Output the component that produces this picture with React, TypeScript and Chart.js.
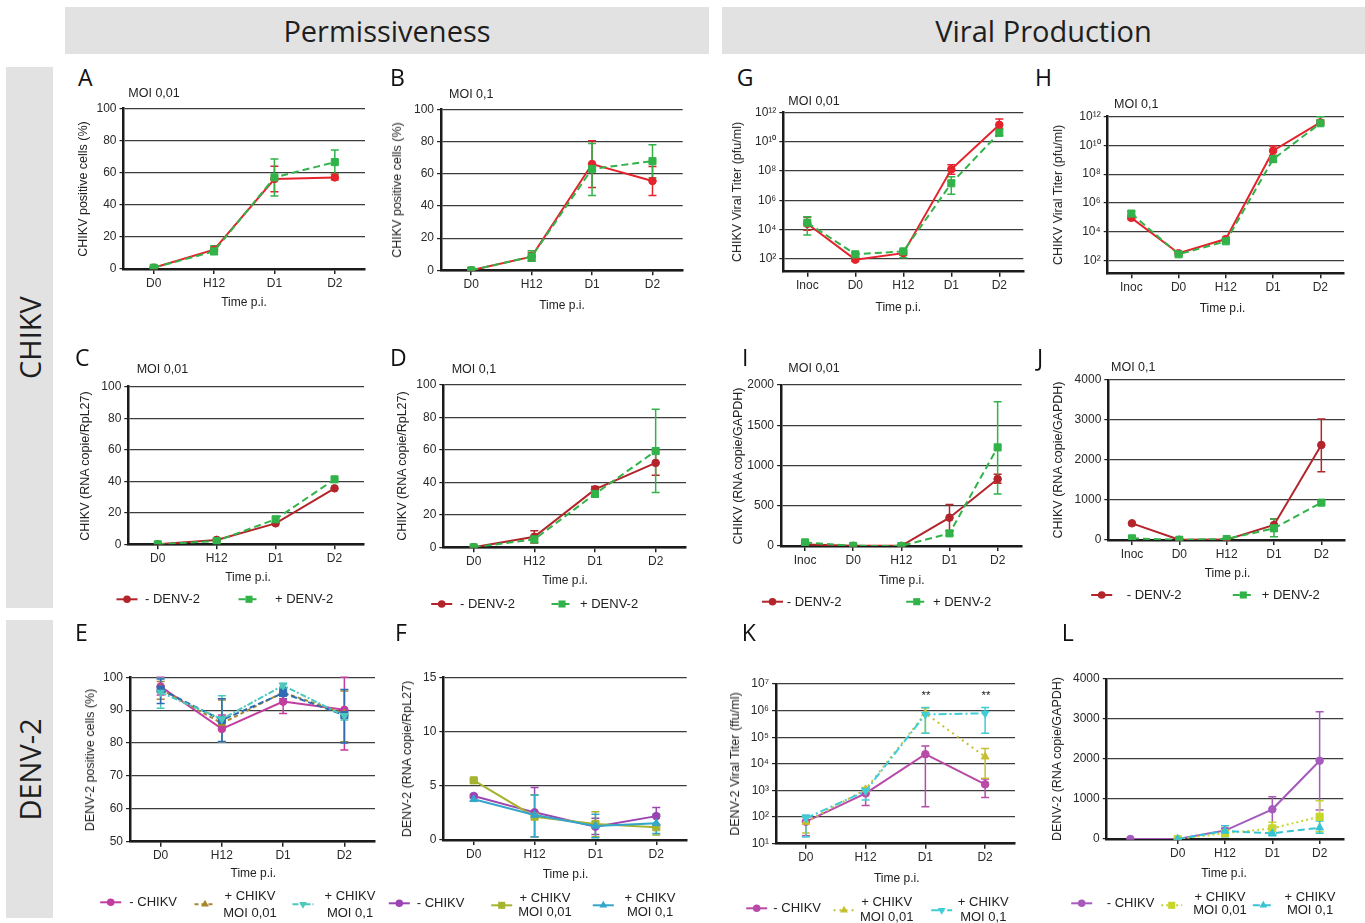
import React, { useEffect, useRef } from 'react';
import { Chart, registerables } from 'chart.js';
Chart.register(...registerables);

const FONT = "'Liberation Sans', Arial, Helvetica, sans-serif";
const HEAD_FONT = "'Open Sans', 'Noto Sans', sans-serif";

// ---------- categories ----------
const time4 = ['D0', 'H12', 'D1', 'D2'];
const time5 = ['Inoc', 'D0', 'H12', 'D1', 'D2'];
const time5L = ['', 'D0', 'H12', 'D1', 'D2'];

// ---------- tick values ----------
const ticks0to100 = [0, 20, 40, 60, 80, 100];
const ticks50to100 = [50, 60, 70, 80, 90, 100];
const ticks0to15 = [0, 5, 10, 15];
const ticks0to2000 = [0, 500, 1000, 1500, 2000];
const ticks0to4000 = [0, 1000, 2000, 3000, 4000];
const ticksLog2to12 = [1e2, 1e4, 1e6, 1e8, 1e10, 1e12];
const ticksLog1to7 = [1e1, 1e2, 1e3, 1e4, 1e5, 1e6, 1e7];

// ---------- A : CHIKV positive cells, MOI 0,01 ----------
const A_minusDenv = [0.8, 12, 56, 57];
const A_minusDenvErr = [[0.3, 1.3], [10.5, 13.5], [48, 64], [55.5, 59]];
const A_plusDenv = [0.8, 11, 57, 66.5];
const A_plusDenvErr = [[0.3, 1.3], [9, 14.5], [45.5, 68.5], [59, 74]];

// ---------- B : CHIKV positive cells, MOI 0,1 ----------
const B_minusDenv = [0, 8.5, 66, 55.5];
const B_minusDenvErr = [[0, 0.5], [6, 11], [51.5, 80.5], [46.5, 64.5]];
const B_plusDenv = [0, 8.5, 63, 67.8];
const B_plusDenvErr = [[0, 0.5], [5.6, 12.2], [46.4, 78.7], [57.5, 78]];

// ---------- C : CHIKV RNA/RpL27, MOI 0,01 ----------
const C_minusDenv = [0, 2.8, 13.3, 35.5];
const C_plusDenv = [0, 2.1, 15.9, 41.2];

// ---------- D : CHIKV RNA/RpL27, MOI 0,1 ----------
const D_minusDenv = [0, 6.5, 35.7, 52];
const D_minusDenvErr = [[0, 0.5], [2.7, 10.2], [34, 37.5], [44.4, 60]];
const D_plusDenv = [0, 4.9, 32.9, 59.3];
const D_plusDenvErr = [[0, 0.5], [3, 7], [31, 35], [33.7, 85]];

// ---------- G : CHIKV viral titer, MOI 0,01 ----------
const G_minusDenv = [2.5e4, 90, 2.5e2, 1.3e8, 1.4e11];
const G_minusDenvErr = [[9e3, 7e4], [70, 120], [1.8e2, 3.5e2], [6e7, 2.7e8], [7e10, 3.5e11]];
const G_plusDenv = [3e4, 2.1e2, 3.3e2, 1.45e7, 4e10];
const G_plusDenvErr = [[4.4e3, 7.7e4], [1.5e2, 2.8e2], [1.2e2, 4e2], [2.6e6, 4e7], [2.5e10, 8e10]];

// ---------- H : CHIKV viral titer, MOI 0,1 ----------
const H_minusDenv = [9e4, 3.1e2, 3e3, 4.3e9, 4e11];
const H_minusDenvErr = [[7e4, 1.2e5], [2.5e2, 4e2], [2.2e3, 4e3], [2e9, 9e9], [3e11, 6e11]];
const H_plusDenv = [1.8e5, 2.6e2, 2.1e3, 1.1e9, 3.5e11];
const H_plusDenvErr = [[1.3e5, 2.6e5], [2e2, 3.2e2], [1.6e3, 2.8e3], [7e8, 2e9], [2.5e11, 1e12]];

// ---------- I : CHIKV RNA/GAPDH, MOI 0,01 ----------
const I_minusDenv = [20, 2, 2, 352, 832];
const I_minusDenvErr = [[10, 30], [0, 5], [0, 5], [190, 517], [780, 890]];
const I_plusDenv = [45, 2, 0, 157, 1225];
const I_plusDenvErr = [[30, 60], [0, 5], [0, 3], [130, 185], [646, 1793]];

// ---------- J : CHIKV RNA/GAPDH, MOI 0,1 ----------
const J_minusDenv = [417, 5, 10, 375, 2375];
const J_minusDenvErr = [[400, 430], [0, 10], [0, 20], [230, 525], [1708, 3025]];
const J_plusDenv = [42, 5, 25, 292, 933];
const J_plusDenvErr = [[30, 55], [0, 10], [10, 40], [83, 525], [900, 970]];

// ---------- E : DENV-2 positive cells ----------
const E_minusChikv = [97.2, 84.3, 92.6, 90.1];
const E_minusChikvErr = [[94.6, 100], [80.4, 88.5], [89, 95.4], [77.9, 100]];
const E_chikv001 = [96.4, 86, 95.4, 89];
const E_chikv001Err = [[93.3, 98.7], [80.4, 93.1], [94.3, 96.5], [80.4, 95.8]];
const E_chikv01 = [95.4, 87.3, 97.5, 88.3];
const E_chikv01Err = [[90.6, 99.7], [80.4, 94.4], [96.6, 98.2], [87, 89.6]];
const E_extra = [96.3, 87, 95.2, 88.5];
const E_extraErr = [[92, 99.5], [80.5, 93.5], [93.5, 96.8], [80, 96.3]];

// ---------- F : DENV-2 RNA/RpL27 ----------
const F_minusChikv = [4.06, 2.55, 1.23, 2.2];
const F_minusChikvErr = [[3.9, 4.2], [0.3, 4.83], [0.5, 2.0], [1.4, 3.0]];
const F_chikv001 = [5.5, 2.15, 1.48, 1.17];
const F_chikv001Err = [[5.4, 5.6], [0.3, 4.15], [0.3, 2.6], [0.46, 2.3]];
const F_chikv01 = [3.75, 2.3, 1.3, 1.54];
const F_chikv01Err = [[3.6, 3.9], [0.3, 4.15], [0.2, 2.37], [0.6, 2.37]];

// ---------- K : DENV-2 viral titer ----------
const K_minusChikv = [67, 780, 2.3e4, 1.7e3];
const K_minusChikvErr = [[20, 110], [270, 1200], [245, 4.7e4], [540, 2.7e3]];
const K_chikv001 = [65, 1100, 7.9e5, 1.85e4];
const K_chikv001Err = [[25, 100], [700, 1300], [1.4e5, 1.25e6], [2.9e3, 3.8e4]];
const K_chikv01 = [90, 950, 7.2e5, 7.9e5];
const K_chikv01Err = [[18, 120], [440, 1200], [1.4e5, 1.3e6], [1.4e5, 1.3e6]];

// ---------- L : DENV-2 RNA/GAPDH ----------
const L_minusChikv = [0, 0, 210, 742, 1958];
const L_minusChikvErr = [[0, 0], [0, 0], [150, 267], [308, 1058], [725, 3183]];
const L_chikv001 = [null, 0, 142, 267, 558];
const L_chikv001Err = [null, [0, 0], [80, 220], [100, 417], [183, 958]];
const L_chikv01 = [null, 0, 200, 142, 283];
const L_chikv01Err = [null, [0, 0], [58, 333], [83, 267], [142, 450]];

// ---------- colours ----------
const RED = '#e4232d';
const DRED = '#b3252b';
const GREEN = '#31b349';
const MAG = '#c23da0';
const BROWN = '#a8862e';
const TURQ = '#4dc8bd';
const BLUE = '#2e6db3';
const PURP = '#9b45b2';
const OLIVE = '#a6b32f';
const SKY = '#34a5cb';
const MAG2 = '#b84aa8';
const YOL = '#c6bf33';
const CYAN = '#3fcdd6';
const PURP2 = '#a65bbc';
const LIME = '#c8d62a';
const CYAN2 = '#36c4d4';

const SOLID: number[] = [];
const DASH = [7, 4];

function ser(label: string, data: any[], err: any[] | null, color: string, dash: number[], style: string, rot: number, radius: number, order: number) {
  return { label, data, err, color, dash, style, rot, radius, order };
}

const supDigits: Record<string, string> = { '0': '⁰', '1': '¹', '2': '²', '3': '³', '4': '⁴', '5': '⁵', '6': '⁶', '7': '⁷', '8': '⁸', '9': '⁹' };
const logLabel = (v: number) => '10' + String(Math.round(Math.log10(v))).split('').map((c) => supDigits[c]).join('');

const denvLegend = (y: number, g1: number, t1: number, g2: number, t2: number) => [
  { ds: 0, gx: g1, gy: y, text: ['- DENV-2'], tx: t1, ty: y },
  { ds: 1, gx: g2, gy: y, text: ['+ DENV-2'], tx: t2, ty: y },
];
const chikvLegend = (y: number, y1: number, y2: number, g: number[], t: number[]) => [
  { ds: 0, gx: g[0], gy: y, text: ['- CHIKV'], tx: t[0], ty: y },
  { ds: 1, gx: g[1], gy: y + 2, text: ['+ CHIKV', 'MOI 0,01'], tx: t[1], ty: y1, ty2: y2 },
  { ds: 2, gx: g[2], gy: y + 2, text: ['+ CHIKV', 'MOI 0,1'], tx: t[2], ty: y1, ty2: y2 },
];

const panels: any[] = [
  {
    id: 'A', box: [123.5, 108.3, 365, 269], labels: time4, yType: 'linear', yMin: 0, yMax: 100, yTicks: ticks0to100,
    yTitle: 'CHIKV positive cells (%)', yTitleX: 83, xTitle: [244, 302], letter: [78, 76.7], moi: ['MOI 0,01', 128.3, 93.3],
    series: [ser('- DENV-2', A_minusDenv, A_minusDenvErr, RED, SOLID, 'circle', 0, 3.8, 1), ser('+ DENV-2', A_plusDenv, A_plusDenvErr, GREEN, DASH, 'rect', 0, 5, 0)],
    legend: [],
  },
  {
    id: 'B', box: [441, 109.3, 682.7, 270.3], labels: time4, yType: 'linear', yMin: 0, yMax: 100, yTicks: ticks0to100,
    yTitle: 'CHIKV positive cells (%)', yTitleX: 396.7, xTitle: [562, 304.5], letter: [390, 76.7], moi: ['MOI 0,1', 449, 94],
    series: [ser('- DENV-2', B_minusDenv, B_minusDenvErr, RED, SOLID, 'circle', 0, 3.8, 1), ser('+ DENV-2', B_plusDenv, B_plusDenvErr, GREEN, DASH, 'rect', 0, 5, 0)],
    legend: [],
  },
  {
    id: 'G', box: [783.3, 112.3, 1023.3, 271.7], labels: time5, yType: 'logarithmic', yMin: 13.6, yMax: 1e12, yTicks: ticksLog2to12,
    yTitle: 'CHIKV Viral Titer (pfu/ml)', yTitleX: 737.3, xTitle: [898.3, 307], letter: [736.7, 76.7], moi: ['MOI 0,01', 788.3, 100.7],
    series: [ser('- DENV-2', G_minusDenv, G_minusDenvErr, RED, SOLID, 'circle', 0, 3.8, 1), ser('+ DENV-2', G_plusDenv, G_plusDenvErr, GREEN, DASH, 'rect', 0, 5, 0)],
    legend: [],
  },
  {
    id: 'H', box: [1107.7, 116.7, 1344, 273.3], labels: time5, yType: 'logarithmic', yMin: 12.4, yMax: 1e12, yTicks: ticksLog2to12,
    yTitle: 'CHIKV Viral Titer (pfu/ml)', yTitleX: 1058.3, xTitle: [1222.5, 308], letter: [1035, 76.7], moi: ['MOI 0,1', 1114, 104.3],
    series: [ser('- DENV-2', H_minusDenv, H_minusDenvErr, RED, SOLID, 'circle', 0, 3.8, 1), ser('+ DENV-2', H_plusDenv, H_plusDenvErr, GREEN, DASH, 'rect', 0, 5, 0)],
    legend: [],
  },
  {
    id: 'C', box: [128.3, 386.7, 364, 544.3], labels: time4, yType: 'linear', yMin: 0, yMax: 100, yTicks: ticks0to100,
    yTitle: 'CHIKV (RNA copie/RpL27)', yTitleX: 85, xTitle: [248, 576.7], letter: [75, 357], moi: ['MOI 0,01', 136.7, 369.3],
    series: [ser('- DENV-2', C_minusDenv, null, DRED, SOLID, 'circle', 0, 3.8, 1), ser('+ DENV-2', C_plusDenv, null, GREEN, DASH, 'rect', 0, 5, 0)],
    legend: denvLegend(599.3, 127, 145, 249, 275),
  },
  {
    id: 'D', box: [443.3, 385, 686, 547.3], labels: time4, yType: 'linear', yMin: 0, yMax: 100, yTicks: ticks0to100,
    yTitle: 'CHIKV (RNA copie/RpL27)', yTitleX: 401.7, xTitle: [565, 580], letter: [390, 357], moi: ['MOI 0,1', 451.7, 369.3],
    series: [ser('- DENV-2', D_minusDenv, D_minusDenvErr, DRED, SOLID, 'circle', 0, 3.8, 1), ser('+ DENV-2', D_plusDenv, D_plusDenvErr, GREEN, DASH, 'rect', 0, 5, 0)],
    legend: denvLegend(604, 441.7, 460, 562, 580),
  },
  {
    id: 'I', box: [781, 385, 1021.7, 546], labels: time5, yType: 'linear', yMin: 0, yMax: 2000, yTicks: ticks0to2000,
    yTitle: 'CHIKV (RNA copie/GAPDH)', yTitleX: 738.3, xTitle: [901.7, 580], letter: [742, 357], moi: ['MOI 0,01', 788.3, 368.3],
    series: [ser('- DENV-2', I_minusDenv, I_minusDenvErr, DRED, SOLID, 'circle', 0, 3.8, 1), ser('+ DENV-2', I_plusDenv, I_plusDenvErr, GREEN, DASH, 'rect', 0, 5, 0)],
    legend: denvLegend(601.7, 772.5, 786.7, 916.7, 933),
  },
  {
    id: 'J', box: [1108.3, 380, 1345, 540], labels: time5, yType: 'linear', yMin: 0, yMax: 4000, yTicks: ticks0to4000,
    yTitle: 'CHIKV (RNA copie/GAPDH)', yTitleX: 1058.3, xTitle: [1227.5, 573], letter: [1037, 357], moi: ['MOI 0,1', 1111, 367.3],
    series: [ser('- DENV-2', J_minusDenv, J_minusDenvErr, DRED, SOLID, 'circle', 0, 3.8, 1), ser('+ DENV-2', J_plusDenv, J_plusDenvErr, GREEN, DASH, 'rect', 0, 5, 0)],
    legend: denvLegend(595, 1101.7, 1126.7, 1243.3, 1261.7),
  },
  {
    id: 'E', box: [130, 677.3, 375, 841.7], labels: time4, yType: 'linear', yMin: 50, yMax: 100, yTicks: ticks50to100,
    yTitle: 'DENV-2 positive cells (%)', yTitleX: 90, xTitle: [253.3, 873.3], letter: [75, 631.7], moi: null,
    series: [
      ser('- CHIKV', E_minusChikv, E_minusChikvErr, MAG, SOLID, 'circle', 0, 3.8, 3),
      ser('+ CHIKV MOI 0,01', E_chikv001, E_chikv001Err, BROWN, [4, 3], 'triangle', 0, 4.5, 2),
      ser('+ CHIKV MOI 0,1', E_chikv01, E_chikv01Err, TURQ, [6, 2, 2, 2], 'triangle', 180, 4.5, 0),
      ser('extra', E_extra, E_extraErr, BLUE, [6, 3], 'rect', 0, 5, 1),
    ],
    legend: chikvLegend(902.3, 896.7, 913.3, [110.7, 205, 303], [129.3, 250, 350]),
  },
  {
    id: 'F', box: [443.3, 677.3, 686.7, 840], labels: time4, yType: 'linear', yMin: 0, yMax: 15, yTicks: ticks0to15,
    yTitle: 'DENV-2 (RNA copie/RpL27)', yTitleX: 406.7, xTitle: [565.5, 874.3], letter: [395, 631.7], moi: null,
    series: [
      ser('- CHIKV', F_minusChikv, F_minusChikvErr, PURP, SOLID, 'circle', 0, 3.8, 2),
      ser('+ CHIKV MOI 0,01', F_chikv001, F_chikv001Err, OLIVE, SOLID, 'rect', 0, 5, 1),
      ser('+ CHIKV MOI 0,1', F_chikv01, F_chikv01Err, SKY, SOLID, 'triangle', 0, 4.5, 0),
    ],
    legend: chikvLegend(903.3, 898.3, 912.3, [399.3, 501.7, 603.3], [416.7, 545, 650]),
  },
  {
    id: 'K', box: [776, 684, 1015, 843.7], labels: time4, yType: 'logarithmic', yMin: 10, yMax: 1e7, yTicks: ticksLog1to7,
    yTitle: 'DENV-2 Viral Titer (ffu/ml)', yTitleX: 735, xTitle: [896.7, 877.7], letter: [741.7, 631.7], moi: null,
    stars: [[926, 695], [986, 695]],
    series: [
      ser('- CHIKV', K_minusChikv, K_minusChikvErr, MAG2, SOLID, 'circle', 0, 3.8, 2),
      ser('+ CHIKV MOI 0,01', K_chikv001, K_chikv001Err, YOL, [2, 4], 'triangle', 0, 4.5, 1),
      ser('+ CHIKV MOI 0,1', K_chikv01, K_chikv01Err, CYAN, [8, 3, 2, 3], 'triangle', 180, 4.5, 0),
    ],
    legend: chikvLegend(908.3, 901.7, 916.7, [756.7, 844, 941.7], [773.3, 886.7, 983.3]),
  },
  {
    id: 'L', box: [1106.7, 679, 1343.3, 839], labels: time5L, yType: 'linear', yMin: 0, yMax: 4000, yTicks: ticks0to4000,
    yTitle: 'DENV-2 (RNA copie/GAPDH)', yTitleX: 1056.7, xTitle: [1224, 873.3], letter: [1061.7, 631.7], moi: null, hideFirstTick: true,
    series: [
      ser('- CHIKV', L_minusChikv, L_minusChikvErr, PURP2, SOLID, 'circle', 0, 3.8, 2),
      ser('+ CHIKV MOI 0,01', L_chikv001, L_chikv001Err, LIME, [2, 3], 'rect', 0, 5, 1),
      ser('+ CHIKV MOI 0,1', L_chikv01, L_chikv01Err, CYAN2, DASH, 'triangle', 0, 4.5, 0),
    ],
    legend: chikvLegend(903.3, 896.7, 910, [1081.7, 1171.7, 1263.3], [1106.7, 1220, 1310]),
  },
];

const YW = 48;
const XH = 22;

function drawMarker(ctx: CanvasRenderingContext2D, style: string, x: number, y: number, r: number, rot: number, color: string) {
  ctx.save();
  ctx.fillStyle = color;
  ctx.setLineDash([]);
  ctx.translate(x, y);
  if (rot) ctx.rotate((rot * Math.PI) / 180);
  ctx.beginPath();
  if (style === 'circle') ctx.arc(0, 0, r, 0, Math.PI * 2);
  else if (style === 'rect') {
    const s = r * Math.SQRT1_2;
    ctx.rect(-s, -s, 2 * s, 2 * s);
  } else {
    ctx.moveTo(0, -r);
    ctx.lineTo(r * 0.866, r * 0.5);
    ctx.lineTo(-r * 0.866, r * 0.5);
    ctx.closePath();
  }
  ctx.fill();
  ctx.restore();
}

const errorBarPlugin = {
  id: 'errbars',
  beforeDatasetsDraw(chart: any) {
    const ctx = chart.ctx;
    const ys = chart.scales.y;
    chart.data.datasets.forEach((ds: any, i: number) => {
      if (!ds.errorBars) return;
      const meta = chart.getDatasetMeta(i);
      ctx.save();
      ctx.strokeStyle = ds.borderColor;
      ctx.lineWidth = 1.5;
      ctx.setLineDash([]);
      ds.errorBars.forEach((e: any, j: number) => {
        if (!e) return;
        const pt = meta.data[j];
        if (!pt || ds.data[j] == null) return;
        const x = pt.x;
        const y1 = ys.getPixelForValue(e[0]);
        const y2 = ys.getPixelForValue(e[1]);
        ctx.beginPath();
        ctx.moveTo(x, y1);
        ctx.lineTo(x, y2);
        ctx.moveTo(x - 4, y1);
        ctx.lineTo(x + 4, y1);
        ctx.moveTo(x - 4, y2);
        ctx.lineTo(x + 4, y2);
        ctx.stroke();
      });
      ctx.restore();
    });
  },
};

function glyphPlugin(items: any[], cl: number, ct: number) {
  return {
    id: 'glyphs',
    afterDraw(chart: any) {
      const ctx = chart.ctx;
      items.forEach((it) => {
        const ds = chart.data.datasets[it.ds];
        const x = it.gx - cl;
        const y = it.gy - ct;
        ctx.save();
        ctx.strokeStyle = ds.borderColor;
        ctx.lineWidth = 2;
        ctx.setLineDash(ds.borderDash || []);
        ctx.beginPath();
        ctx.moveTo(x - 10.5, y);
        ctx.lineTo(x + 10.5, y);
        ctx.stroke();
        ctx.restore();
        drawMarker(ctx, ds.pointStyle, x, y, ds.pointRadius, ds.pointRotation, ds.borderColor);
      });
    },
  };
}

function Panel({ p }: { p: any }) {
  const ref = useRef<HTMLCanvasElement>(null);
  const [l, t, r, b] = p.box;
  const cl = Math.floor(l - YW - 22);
  const ct = Math.floor(t - 12);
  const cw = Math.ceil(r + 12 - cl);
  const ch = Math.ceil(b + XH + 82 - ct);
  const pad = { left: l - YW - cl, top: t - ct, right: cl + cw - r, bottom: ct + ch - (b + XH) };

  useEffect(() => {
    const canvas = ref.current;
    if (!canvas) return;
    const datasets = p.series.map((s: any) => ({
      label: s.label,
      data: s.data,
      borderColor: s.color,
      backgroundColor: s.color,
      borderWidth: 2,
      borderDash: s.dash,
      pointStyle: s.style,
      pointRotation: s.rot,
      pointRadius: s.radius,
      pointHoverRadius: s.radius,
      pointBackgroundColor: s.color,
      pointBorderColor: s.color,
      pointBorderWidth: 1,
      tension: 0,
      spanGaps: true,
      fill: false,
      order: s.order,
      errorBars: s.err,
    }));
    const tickFont = { size: 12, family: FONT };
    const chart = new Chart(canvas, {
      type: 'line',
      data: { labels: p.labels, datasets },
      options: {
        responsive: false,
        animation: false,
        events: [],
        layout: { padding: pad },
        plugins: { legend: { display: false }, tooltip: { enabled: false } },
        scales: {
          x: {
            type: 'category',
            offset: true,
            afterFit: (s: any) => { s.height = XH; },
            grid: {
              display: true,
              drawOnChartArea: false,
              drawTicks: true,
              tickLength: 5,
              lineWidth: 1.5,
              color: '#222',
              tickColor: (c: any) => (p.hideFirstTick && c.index === 0 ? 'rgba(0,0,0,0)' : '#222'),
            },
            border: { display: true, color: '#1b1b1b', width: 2.5 },
            ticks: { color: '#2a2a2a', font: tickFont, padding: 2, maxRotation: 0, autoSkip: false },
          },
          y: {
            type: p.yType,
            min: p.yMin,
            max: p.yMax,
            afterFit: (s: any) => { s.width = YW; },
            afterBuildTicks: (s: any) => { s.ticks = p.yTicks.map((v: number) => ({ value: v })); },
            grid: { color: '#3c3c3c', lineWidth: 1.2, drawTicks: true, tickLength: 4, tickColor: '#222' },
            border: { display: true, color: '#1b1b1b', width: 2.5 },
            ticks: {
              color: '#2a2a2a',
              font: tickFont,
              padding: 3,
              autoSkip: false,
              callback: (v: any) => (p.yType === 'logarithmic' ? logLabel(Number(v)) : String(v)),
            },
          },
        },
      } as any,
      plugins: [errorBarPlugin, glyphPlugin(p.legend, cl, ct)],
    });
    return () => chart.destroy();
  }, []);

  const abs: React.CSSProperties = { position: 'absolute', whiteSpace: 'nowrap', color: '#222' };
  return (
    <>
      <canvas ref={ref} width={cw} height={ch} style={{ position: 'absolute', left: cl, top: ct, width: cw, height: ch }} />
      <div style={{ ...abs, left: p.letter[0], top: p.letter[1] - 15, lineHeight: '30px', fontSize: 23, fontFamily: HEAD_FONT, color: '#111' }}>{p.id}</div>
      {p.moi && (
        <div style={{ ...abs, left: p.moi[1], top: p.moi[2] - 8, lineHeight: '16px', fontSize: 12.5, fontFamily: FONT }}>{p.moi[0]}</div>
      )}
      <div
        style={{
          ...abs,
          left: p.yTitleX,
          top: (p.box[1] + p.box[3]) / 2,
          fontSize: 12.5,
          lineHeight: '14px',
          fontFamily: FONT,
          transform: 'translate(-50%, -50%) rotate(-90deg)',
        }}
      >
        {p.yTitle}
      </div>
      <div style={{ ...abs, left: p.xTitle[0] - 50, width: 100, textAlign: 'center', top: p.xTitle[1] - 8, lineHeight: '16px', fontSize: 12, fontFamily: FONT }}>
        Time p.i.
      </div>
      {(p.stars || []).map((s: number[], i: number) => (
        <div key={'s' + i} style={{ ...abs, left: s[0] - 20, width: 40, textAlign: 'center', top: s[1] - 7, lineHeight: '14px', fontSize: 11.5, fontFamily: FONT }}>**</div>
      ))}
      {p.legend.map((it: any, i: number) =>
        it.text.length === 1 ? (
          <div key={'lg' + i} style={{ ...abs, left: it.tx, top: it.ty - 8, lineHeight: '16px', fontSize: 13, fontFamily: FONT }}>{it.text[0]}</div>
        ) : (
          <div
            key={'lg' + i}
            style={{
              ...abs,
              left: it.tx - 60,
              width: 120,
              textAlign: 'center',
              top: it.ty - (it.ty2 - it.ty) / 2,
              lineHeight: `${it.ty2 - it.ty}px`,
              fontSize: 13,
              fontFamily: FONT,
            }}
          >
            {it.text[0]}
            <br />
            {it.text[1]}
          </div>
        )
      )}
    </>
  );
}

export default function App() {
  const bar: React.CSSProperties = { position: 'absolute', background: '#e2e2e2', display: 'flex', alignItems: 'center', justifyContent: 'center', fontFamily: HEAD_FONT, color: '#1e1e1e' };
  return (
    <div style={{ position: 'absolute', left: 0, top: 0, width: 1365, height: 923, background: '#fff', overflow: 'hidden' }}>
      <div style={{ ...bar, left: 65, top: 7, width: 644, height: 47, fontSize: 29 }}>Permissiveness</div>
      <div style={{ ...bar, left: 722, top: 7, width: 643, height: 47, fontSize: 29 }}>Viral Production</div>
      <div style={{ ...bar, left: 6, top: 67, width: 47, height: 541 }}>
        <div style={{ transform: 'rotate(-90deg)', fontSize: 29, whiteSpace: 'nowrap' }}>CHIKV</div>
      </div>
      <div style={{ ...bar, left: 6, top: 620, width: 47, height: 298 }}>
        <div style={{ transform: 'rotate(-90deg)', fontSize: 29, whiteSpace: 'nowrap' }}>DENV-2</div>
      </div>
      {panels.map((p) => (
        <Panel key={p.id} p={p} />
      ))}
    </div>
  );
}
